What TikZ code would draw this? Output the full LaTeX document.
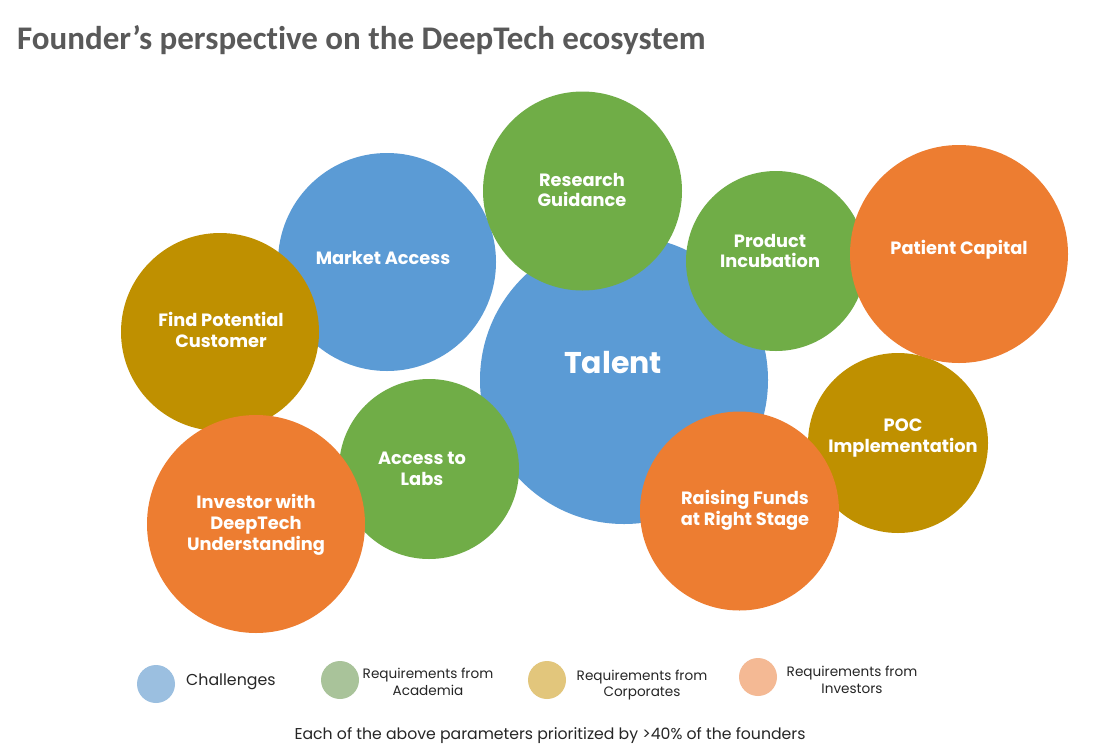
\documentclass[tikz,border=0pt]{standalone}
\usepackage{fontspec}
\setmainfont{Poppins}
\newfontfamily\titlefont[Ligatures=NoCommon]{Carlito}
\definecolor{cblue}{HTML}{5B9BD5}
\definecolor{cgreen}{HTML}{70AD47}
\definecolor{cgold}{HTML}{BF9000}
\definecolor{corange}{HTML}{ED7D31}
\definecolor{lblue}{HTML}{9BBFE0}
\definecolor{lgreen}{HTML}{A9C39A}
\definecolor{lgold}{HTML}{E2C67C}
\definecolor{lorange}{HTML}{F4B994}
\definecolor{titlegray}{HTML}{595959}
\tikzset{
  bubble/.style={circle, minimum size=#1, inner sep=0pt},
  blab/.style={text=white, font=\fontsize{17.8}{20.7}\selectfont\bfseries, align=center, inner sep=0pt},
  legdot/.style={circle, minimum size=38pt, inner sep=0pt},
  legtext/.style={font=\fontsize{13.6}{16.5}\selectfont, align=center, inner sep=0pt, text=black!85}
}
\begin{document}
\begin{tikzpicture}[x=1pt,y=-1pt]
\useasboundingbox[fill=white] (0,0) rectangle (1097,750);
\node[anchor=base west, inner sep=0pt, text=titlegray, font=\titlefont\fontsize{33}{38}\selectfont\bfseries] (title) at (17,49) {Founder’s perspective on the DeepTech ecosystem};
% bubbles
\node[bubble=288pt, fill=cblue] (talent) at (624,380) {};
\node[bubble=218pt, fill=cblue] (market) at (387,262) {};
\node[bubble=198pt, fill=cgold] (findc) at (220,332) {};
\node[bubble=199pt, fill=cgreen] (research) at (582.5,191) {};
\node[bubble=180pt, fill=cgreen] (prodinc) at (776,261) {};
\node[bubble=180pt, fill=cgreen] (labs) at (429,469) {};
\node[bubble=180pt, fill=cgold] (poc) at (898,443) {};
\node[bubble=218pt, fill=corange] (investor) at (256,524) {};
\node[bubble=199pt, fill=corange] (raising) at (739.5,511) {};
\node[bubble=218pt, fill=corange] (patient) at (959,254) {};
% labels
\node[blab, font=\fontsize{30}{34}\selectfont\bfseries] (talentl) at (613,363) {Talent};
\node[blab] (marketl) at (383,258) {Market Access};
\node[blab] (findcl) at (221,330) {Find Potential\\Customer};
\node[blab] (researchl) at (582,190) {Research\\Guidance};
\node[blab] (prodincl) at (770,251) {Product\\Incubation};
\node[blab] (patientl) at (959,250) {Patient Capital};
\node[blab] (pocl) at (903,438) {POC\\Implementation};
\node[blab] (raisingl) at (745,510) {Raising Funds\\at Right Stage};
\node[blab] (investorl) at (256,525) {Investor with\\DeepTech\\Understanding};
\node[blab] (labsl) at (422,469) {Access to\\Labs};
% legend
\node[legdot, fill=lblue] (l1) at (156,684) {};
\node[legtext, anchor=west, font=\fontsize{15.8}{18}\selectfont] (t1) at (186,682) {Challenges};
\node[legdot, fill=lgreen] (l2) at (340,680) {};
\node[legtext] (t2) at (428,682) {Requirements from\\Academia};
\node[legdot, fill=lgold] (l3) at (547,680) {};
\node[legtext] (t3) at (642,685) {Requirements from\\Corporates};
\node[legdot, fill=lorange] (l4) at (758,677) {};
\node[legtext] (t4) at (852,680) {Requirements from\\Investors};
\node[legtext, font=\fontsize{15.7}{18}\selectfont] (foot) at (550,736) {Each of the above parameters prioritized by >40\% of the founders};
\end{tikzpicture}
\end{document}
